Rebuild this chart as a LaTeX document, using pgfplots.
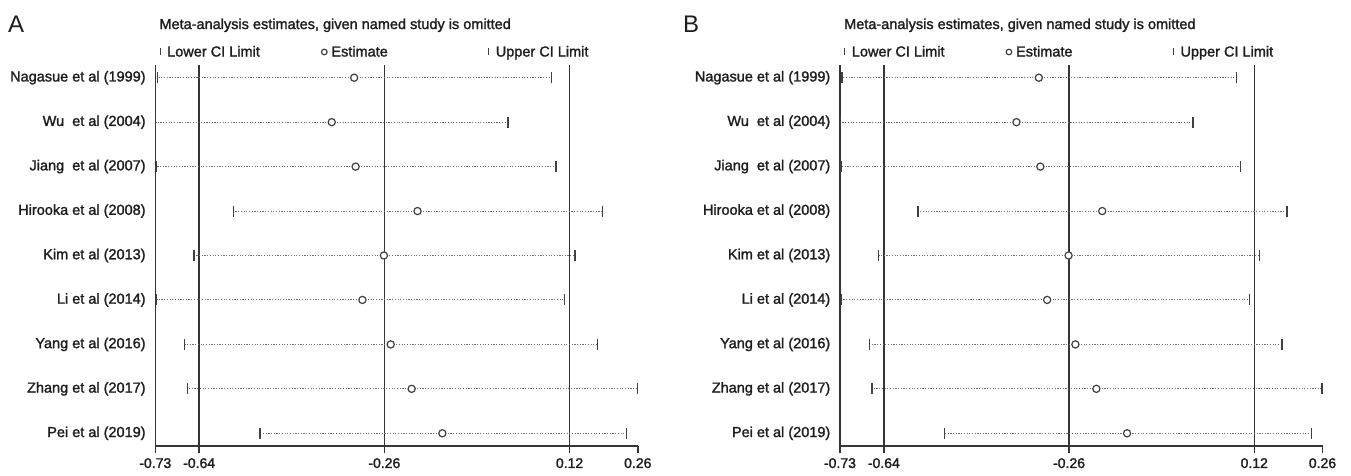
\documentclass[border=0pt]{standalone}
\usepackage{fontspec}
\setmainfont{Liberation Sans}[BoldFont=Liberation Sans, BoldFeatures={FakeBold=1.6}]
\newfontfamily\letterfont{Liberation Sans}
\usepackage{pgfplots}
\usepackage{pgfplotstable}
\pgfplotsset{compat=1.18}
\definecolor{txt}{HTML}{1E1E1E}
\definecolor{refl}{HTML}{353535}
\definecolor{dots}{HTML}{707070}
\definecolor{mk}{HTML}{404040}

% row: 9 = top (Nagasue) ... 1 = bottom (Pei)
\pgfplotstableread{
row lo est hi
9 -0.726 -0.322 0.083
8 -0.729 -0.368 -0.006
7 -0.728 -0.319 0.092
6 -0.570 -0.192 0.187
5 -0.651 -0.261 0.131
4 -0.727 -0.305 0.110
3 -0.670 -0.247 0.177
2 -0.664 -0.204 0.259
1 -0.515 -0.141 0.237
}\dataA
\pgfplotstableread{
row lo est hi
9 -0.726 -0.322 0.083
8 -0.729 -0.368 -0.006
7 -0.728 -0.319 0.092
6 -0.570 -0.192 0.187
5 -0.651 -0.261 0.131
4 -0.727 -0.305 0.110
3 -0.670 -0.247 0.177
2 -0.664 -0.204 0.259
1 -0.515 -0.141 0.237
}\dataB

\newcommand{\lab}{\fontsize{14.5bp}{17bp}\selectfont\bfseries}
\newcommand{\tlab}{\fontsize{14bp}{16bp}\selectfont\bfseries}

\pgfplotsset{
  metastyle/.style={
    scale only axis, width=482.5bp, height=381bp,
    xmin=-0.73, xmax=0.26, ymin=0.714, ymax=9.286,
    axis x line*=bottom, axis y line*=left,
    axis line style={refl, line width=1.4bp, -},
    xtick={-0.73,-0.64,-0.26,0.12,0.26},
    xticklabels={-0.73,-0.64,-0.26,0.12,0.26},
    x tick style={refl, line width=1.4bp},
    tick align=outside, major tick length=7bp,
    ytick={1,2,3,4,5,6,7,8,9},
    yticklabels={Pei et al (2019), Zhang et al (2017), Yang et al (2016), Li et al (2014), Kim et al (2013), Hirooka et al (2008), Jiang\ \ et al (2007), Wu\ \ et al (2004), Nagasue et al (1999)},
    y tick style={draw=none},
    xticklabel style={font=\tlab, text=txt, inner sep=0pt, yshift=-5bp},
    yticklabel style={font=\lab, text=txt, inner sep=0pt, anchor=east, xshift=-2.5bp},
    title={Meta-analysis estimates, given named study is omitted},
    title style={at={(rel axis cs:0,1)}, anchor=base west, xshift=4bp, yshift=30bp, inner sep=0pt, font=\lab, text=txt},
    legend columns=3,
    legend style={draw=none, fill=none, at={(rel axis cs:0,1)}, anchor=south west, yshift=7bp,
      inner sep=0pt, outer sep=0pt, font=\lab, text=txt,
      nodes={inner sep=0pt, text=txt},
      /tikz/every odd column/.append style={column sep=2.5bp},
      /tikz/every even column/.append style={column sep=0bp}},
    legend cell align=left,
  },
  barleg/.style={legend image code/.code={\path (-4bp,0bp) (4bp,0bp); \draw[##1, mark size=3.5bp, line width=1bp] plot coordinates {(0bp,0bp)};}},
  dotleg/.style={legend image code/.code={\path (-4bp,0bp) (4bp,0bp); \draw[##1, mark size=2.8bp] plot coordinates {(0bp,0bp)};}},
}

\newcommand{\panel}[1]{%
    \addplot [refl, line width=1.5bp, forget plot] coordinates {(-0.64,0.714) (-0.64,9.286)};
    \addplot [refl, line width=1.5bp, forget plot] coordinates {(-0.26,0.714) (-0.26,9.286)};
    \addplot [refl, line width=1.5bp, forget plot] coordinates {(0.12,0.714) (0.12,9.286)};
    \addplot [forget plot, draw=none, mark=none,
      error bars/.cd, x dir=both, x explicit, error mark=none,
      error bar style={draw=dots, line width=1bp, dash pattern=on 1.2bp off 1.5bp}]
      table [x=est, y=row, x error plus expr=\thisrow{hi}-\thisrow{est}, x error minus expr=\thisrow{est}-\thisrow{lo}] {#1};
    \addplot [only marks, mark=|, mark size=5.5bp, draw=mk, line width=1.4bp, barleg]
      table [x=lo, y=row] {#1};
    \addlegendentry{\makebox[152.5bp][l]{Lower CI Limit}}
    \addplot [only marks, mark=*, mark size=3.6bp, draw=mk, fill=white, line width=1.2bp, dotleg]
      table [x=est, y=row] {#1};
    \addlegendentry{\makebox[152.5bp][l]{Estimate}}
    \addplot [only marks, mark=|, mark size=5.5bp, draw=mk, line width=1.4bp, barleg]
      table [x=hi, y=row] {#1};
    \addlegendentry{Upper CI Limit}
}

\begin{document}
\begin{tikzpicture}
\useasboundingbox (0bp,0bp) rectangle (1351bp,476bp);
\node[anchor=base west, inner sep=0pt, font=\letterfont\fontsize{24bp}{28bp}\selectfont, text=txt] at (8bp,443bp) {A};
\node[anchor=base west, inner sep=0pt, font=\letterfont\fontsize{24bp}{28bp}\selectfont, text=txt] at (683bp,443bp) {B};
\begin{axis}[metastyle, at={(155.3bp,30bp)}, anchor=south west]
\panel{\dataA}
\end{axis}
\begin{axis}[metastyle, at={(840bp,30bp)}, anchor=south west]
\panel{\dataB}
\end{axis}
\end{tikzpicture}
\end{document}
